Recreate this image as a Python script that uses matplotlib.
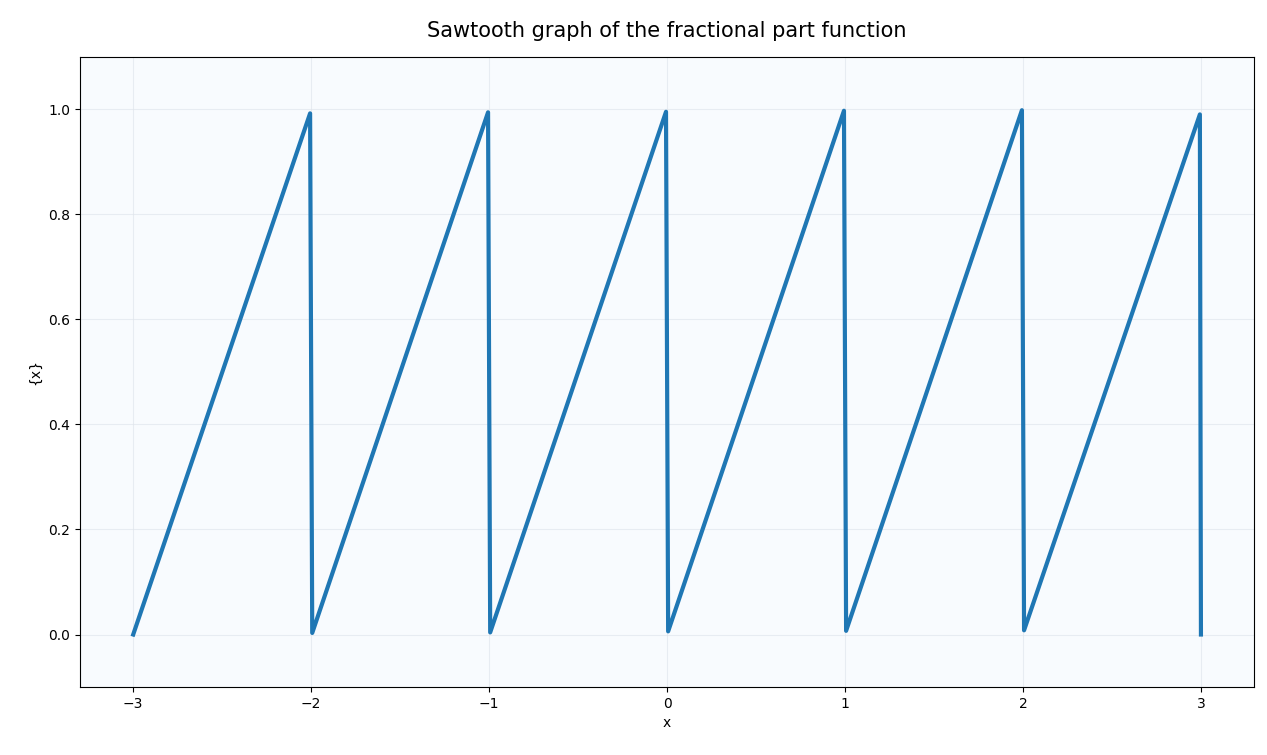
import matplotlib.pyplot as plt

x_pts = [-3.0, -2.006, -1.994, -1.006, -0.994, -0.006, 0.006, 0.994, 1.006,
         1.994, 2.006, 2.994, 3.0]
y_pts = [0.0, 0.992, 0.003, 0.994, 0.004, 0.995, 0.006, 0.997, 0.007,
         0.998, 0.008, 0.990, 0.0]

fig = plt.figure(figsize=(12.67, 7.55), dpi=100)
ax = fig.add_subplot(111, facecolor='#f8fbfe')

ax.plot(x_pts, y_pts, color='#1f77b4', linewidth=3)
ax.set_xlim(-3.3, 3.3)
ax.set_ylim(-0.1, 1.1)
ax.grid(True, color='#dde3ea', alpha=0.6, linewidth=0.8)
ax.set_xlabel('x')
ax.set_ylabel('{x}')
ax.set_title('Sawtooth graph of the fractional part function', fontsize=15, pad=14)

fig.subplots_adjust(left=0.063, right=0.99, top=0.925, bottom=0.09)
fig.savefig('out.png', dpi=100)
